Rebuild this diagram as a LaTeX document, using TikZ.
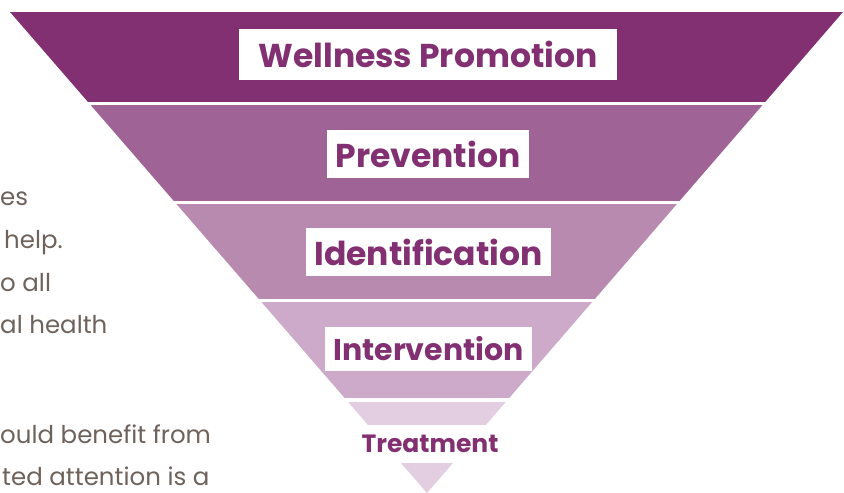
\documentclass[tikz,border=0pt]{standalone}
\usepackage{fontspec}
\setmainfont{Poppins}
\usetikzlibrary{positioning}

\definecolor{plum}{HTML}{823072}
\definecolor{bandA}{HTML}{823072}
\definecolor{bandB}{HTML}{A06396}
\definecolor{bandC}{HTML}{B98AB0}
\definecolor{bandD}{HTML}{CDAAC9}
\definecolor{bandE}{HTML}{E3CDE0}
\definecolor{stone}{HTML}{6E635C}

\tikzset{
  levelbox/.style={fill=white, text=plum, inner xsep=0pt, inner ysep=0pt,
    minimum height=48pt, font=\bfseries\fontsize{33}{33}\selectfont},
  sidetext/.style={anchor=base west, inner sep=0pt, text=stone,
    font=\fontsize{24.5}{24.5}\selectfont}
}

\begin{document}
\begin{tikzpicture}[x=1pt, y=-1pt]
  \useasboundingbox (0,0) rectangle (844,493);
  \begin{scope}
    \clip (10,12) -- (843,12) -- (427,493) -- cycle;
    \fill[bandA] (0,12) rectangle (844,102);
    \fill[bandB] (0,105) rectangle (844,201);
    \fill[bandC] (0,204) rectangle (844,299);
    \fill[bandD] (0,302) rectangle (844,398);
    \fill[bandE] (0,402) rectangle (844,425);
    \fill[bandE] (0,463) rectangle (844,493);
  \end{scope}
  \node[levelbox, minimum width=378pt, minimum height=51pt] (wellness) at (428,54.5) {Wellness Promotion};
  \node[levelbox, minimum width=202pt] (prevention) at (428,154) {Prevention};
  \node[levelbox, minimum width=245pt] (identification) at (428.5,252) {Identification};
  \node[levelbox, minimum width=207pt, minimum height=44pt,
    font=\bfseries\fontsize{30}{30}\selectfont] (intervention) at (428.5,349) {Intervention};
  \node[text=plum, inner sep=0pt, font=\bfseries\fontsize{25}{25}\selectfont]
    (treatment) at (430,444) {Treatment};
  \node[sidetext] (es) at (0,205) {es};
  \node[sidetext] (help) at (4,248) {help.};
  \node[sidetext] (all) at (0,291) {o all};
  \node[sidetext] (health) at (0,333) {al health};
  \node[sidetext] (benefit) at (0,443) {ould benefit from};
  \node[sidetext] (attention) at (2,485) {ted attention is a};
\end{tikzpicture}
\end{document}
